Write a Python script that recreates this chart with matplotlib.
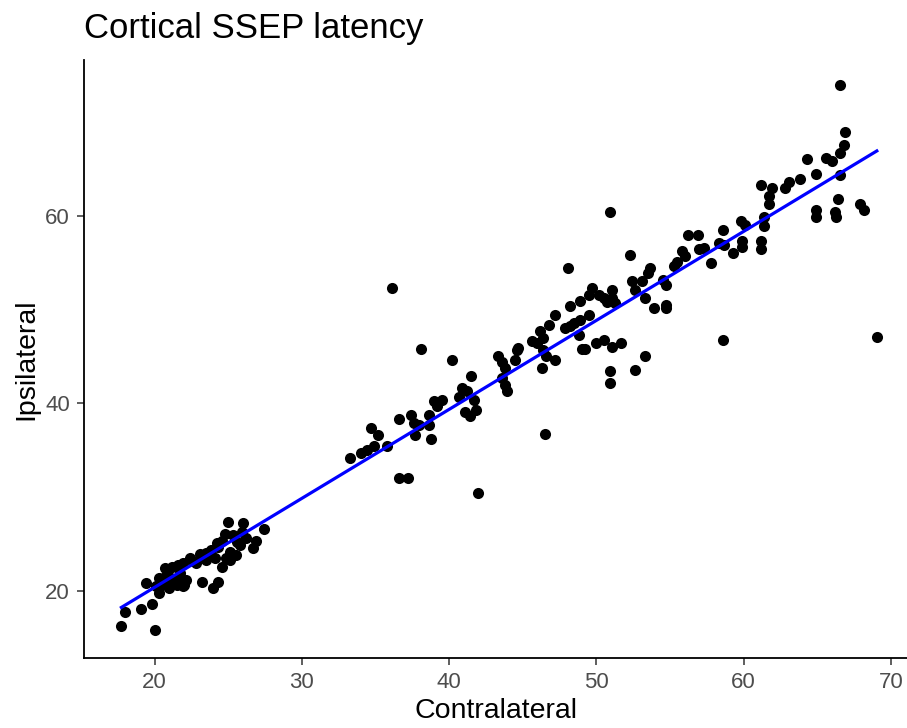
import numpy as np
import matplotlib
matplotlib.use("Agg")
import matplotlib.pyplot as plt

plt.rcParams['font.family'] = ['Liberation Sans', 'DejaVu Sans']

# contralateral vs ipsilateral cortical latencies (ms)
contra_low = [17.74, 20.0, 17.97, 19.1, 19.85, 19.4, 20.3, 20.1, 20.3, 20.45, 20.3, 20.7,
              20.7, 20.9, 21.0, 21.0, 21.2, 21.2, 21.5, 21.5, 21.6, 21.7, 21.9, 22.0,
              22.1, 22.4, 22.8, 23.05, 23.2, 23.5, 23.5, 23.95, 24.1, 24.2, 24.3, 24.3,
              24.6, 24.6, 24.85, 24.97, 25.1, 25.1, 25.3, 25.5, 25.8, 25.9, 26.0, 26.2,
              26.7, 26.9, 27.45, 20.8, 21.9, 22.6, 23.8, 24.8, 25.6]
ipsi_low = [16.3, 15.8, 17.8, 18.1, 18.6, 20.8, 20.3, 20.5, 19.75, 21.2, 21.35, 21.5,
            22.4, 21.7, 21.2, 20.3, 22.6, 20.8, 21.35, 20.6, 22.8, 21.9, 22.95, 20.6,
            21.2, 23.55, 23.0, 23.9, 21.0, 24.0, 23.3, 20.3, 23.5, 25.1, 21.0, 24.7,
            22.6, 25.3, 23.5, 27.4, 24.2, 23.3, 26.0, 23.8, 24.9, 26.3, 27.2, 25.6,
            24.55, 25.3, 26.6, 20.8, 20.5, 23.2, 24.4, 26.1, 25.2]

contra_mid = [33.3, 34.0, 34.45, 34.7, 34.9, 35.2, 35.8, 36.15, 36.6, 37.2, 36.6, 37.4,
              37.6, 37.7, 37.95, 38.1, 38.6, 38.6, 38.8, 39.0, 39.2, 39.5, 40.2, 40.7,
              40.9, 41.1, 41.2, 41.45, 41.5, 41.7, 41.8, 41.97, 43.3, 43.6, 43.6, 43.8,
              43.8, 43.9, 44.5, 44.6, 44.7, 46.5]
ipsi_mid = [34.15, 34.75, 35.0, 37.35, 35.4, 36.6, 35.5, 52.3, 32.0, 32.0, 38.3, 38.8,
            37.9, 36.6, 37.7, 45.8, 38.8, 37.7, 36.2, 40.2, 39.7, 40.4, 44.6, 40.7,
            41.6, 39.1, 41.3, 38.6, 42.9, 40.4, 39.3, 30.4, 45.0, 44.45, 42.7, 43.75,
            42.0, 41.3, 44.6, 45.7, 45.9, 36.75]

contra_high = [45.6, 45.95, 46.2, 46.4, 46.4, 46.6, 46.3, 46.8, 47.2, 47.2, 47.9, 48.05,
               48.2, 48.2, 48.5, 48.8, 48.9, 48.9, 49.0, 49.25, 49.5, 49.5, 49.7, 50.0,
               50.15, 50.5, 50.5, 50.7, 50.9, 50.95, 50.95, 51.05, 51.05, 51.05, 51.3, 51.7,
               52.3, 52.4, 52.6, 52.6, 53.1, 53.3, 53.3, 53.5, 53.65, 53.9, 54.55, 54.7,
               54.7, 54.7, 55.3, 55.45, 55.8, 56.0, 56.2, 56.9, 57.0, 57.3, 57.8, 58.3,
               58.6, 58.7, 58.6, 59.3, 59.85, 60.1, 59.9, 59.9, 61.2, 61.9, 62.8, 61.7,
               61.7, 61.4, 61.4, 61.2, 61.2, 63.1, 63.8, 64.3, 64.9, 64.9, 64.9, 65.6,
               66.0, 66.57, 66.8, 66.9, 66.57, 66.57, 66.4, 66.2, 66.3, 67.9, 68.2, 69.05]
ipsi_high = [46.6, 46.4, 47.7, 46.95, 45.7, 45.0, 43.75, 48.4, 49.4, 44.6, 48.0, 54.4,
             48.2, 50.4, 48.55, 47.3, 48.9, 50.9, 45.8, 45.8, 49.4, 51.6, 52.3, 46.4,
             51.6, 51.2, 46.8, 50.8, 60.4, 43.4, 42.15, 52.1, 51.2, 46.0, 50.7, 46.4,
             55.8, 53.0, 52.1, 43.6, 53.0, 51.2, 45.0, 53.9, 54.4, 50.15, 53.2, 52.6,
             50.5, 50.15, 54.6, 55.1, 56.2, 55.7, 57.9, 57.9, 56.4, 56.6, 55.0, 57.1,
             58.5, 56.9, 46.7, 56.0, 59.4, 59.0, 57.3, 56.7, 63.3, 62.95, 62.95, 62.05,
             61.2, 59.9, 58.9, 57.3, 56.4, 63.55, 63.95, 66.05, 64.4, 60.6, 59.9, 66.15,
             65.8, 66.7, 67.5, 68.9, 73.97, 64.3, 61.8, 60.4, 59.9, 61.2, 60.6, 47.1]

contralateral = np.array(contra_low + contra_mid + contra_high)
ipsilateral = np.array(ipsi_low + ipsi_mid + ipsi_high)

fig = plt.figure(figsize=(9.07, 7.28), dpi=100)
ax = fig.add_axes([84 / 907, 70 / 728, 823 / 907, 598 / 728])

ax.scatter(contralateral, ipsilateral, s=64, color='black', linewidths=0, zorder=2)

# least-squares line over the observed range
slope, intercept = np.polyfit(contralateral, ipsilateral, 1)
xfit = np.array([contralateral.min(), contralateral.max()])
ax.plot(xfit, intercept + slope * xfit, color='#0000FF', lw=2.3, zorder=3)

ax.set_xlim(15.2, 71.1)
ax.set_ylim(12.85, 76.6)
ax.set_xticks([20, 30, 40, 50, 60, 70])
ax.set_yticks([20, 40, 60])

for side in ('top', 'right'):
    ax.spines[side].set_visible(False)
for side in ('left', 'bottom'):
    ax.spines[side].set_color('black')
    ax.spines[side].set_linewidth(1.3)

ax.tick_params(direction='out', length=5, width=1.1, color='#333333',
               labelcolor='#4D4D4D', labelsize=16, pad=5)

ax.set_xlabel('Contralateral', fontsize=20.5, color='black', labelpad=4)
ax.set_ylabel('Ipsilateral', fontsize=20.5, color='black', labelpad=4)
ax.set_title('Cortical SSEP latency', loc='left', fontsize=25, pad=16)

fig.savefig('out.png', dpi=100)
